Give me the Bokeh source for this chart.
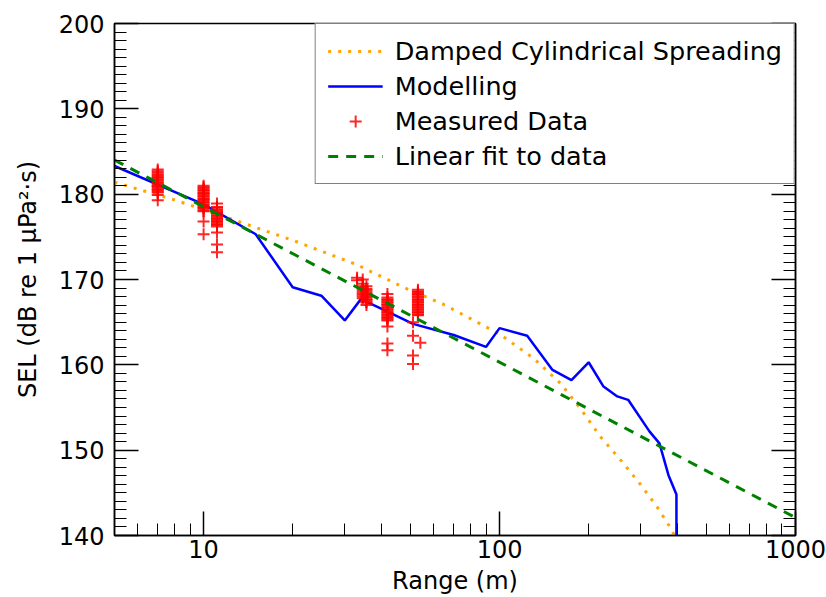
from bokeh.plotting import figure
from bokeh.models import FixedTicker, LinearAxis, Legend, LegendItem, Range1d, BasicTickFormatter
from bokeh.embed import file_html
from bokeh.resources import INLINE

FONT = "DejaVu Sans"

# ---- data ----
dsr_range = [5, 7.85, 10, 20, 32.6, 48, 64.6, 100, 130, 161, 190, 219, 260, 299, 340, 378, 400]
dsr_sel = [181.4, 179.4, 178.2, 174.6, 171.8, 169.0, 167.1, 163.6, 160.8, 157.8, 154.6, 151.6, 148.6, 146.0, 143.4, 140.9, 139.2]

model_range = [5, 10, 15, 20, 25, 30, 34, 42, 51, 70, 90, 100, 124, 151, 175, 200, 224,
               250, 272, 321, 347, 372, 396, 396]
model_sel = [183.3, 178.8, 175.3, 169.1, 168.1, 165.2, 167.7, 166.2, 164.8, 163.5, 162.1,
             164.3, 163.4, 159.4, 158.2, 160.3, 157.5, 156.3, 155.9, 152.2, 150.8, 147.1, 144.8, 140.0]

r7_sel = [182.9, 182.7, 182.5, 182.3, 182.2, 182.0, 181.9, 181.7, 181.6, 181.4, 181.3, 181.1,
          181.0, 180.9, 180.8, 180.6, 180.5, 180.3, 180.2, 179.9, 179.3]
r10_sel = [181.0, 180.8, 180.7, 180.5, 180.4, 180.2, 180.1, 180.0, 179.8, 179.7, 179.5, 179.4,
           179.3, 179.1, 179.0, 178.8, 178.7, 178.5, 178.4, 178.3, 178.1, 178.0, 176.8, 175.3]
r11_sel = [178.9, 178.5, 178.4, 178.2, 178.1, 177.9, 177.8, 177.7, 177.5, 177.4, 177.2, 177.1,
           176.9, 176.8, 176.7, 176.5, 176.4, 176.2, 175.5, 174.1, 173.2]
r33_sel = [170.2, 169.9]
r345_sel = [170.0, 169.5, 169.2, 169.0, 168.8, 168.6, 168.4, 168.2, 168.0, 167.8]
r355_sel = [169.2, 168.9, 168.7, 168.5, 168.3, 168.2, 168.0, 167.9, 167.7, 167.6, 167.4, 167.3, 167.0]
r42_sel = [168.3, 167.9, 167.7, 167.6, 167.4, 167.3, 167.1, 167.0, 166.8, 166.7, 166.5, 166.4,
           166.2, 166.1, 165.9, 165.8, 165.6, 165.5, 165.3, 165.2, 164.5, 162.5, 161.7]
r53_sel = [168.8, 168.6, 168.5, 168.3, 168.2, 168.0, 167.9, 167.7, 167.6, 167.4, 167.3, 167.1,
           167.0, 166.8, 166.7, 166.5, 166.4, 166.2, 166.1, 165.9, 165.8]
r51_sel = [165.0, 163.4, 161.1, 160.1]
r54_sel = [162.6]

meas_groups = [(7.0, r7_sel), (10.0, r10_sel), (11.1, r11_sel), (33.0, r33_sel),
               (34.5, r345_sel), (35.5, r355_sel), (41.8, r42_sel), (53.0, r53_sel),
               (51.0, r51_sel), (54.0, r54_sel)]
meas_range = [r for r, vals in meas_groups for _ in vals]
meas_sel = [v for _, vals in meas_groups for v in vals]

fit_range = [5, 1000]
fit_sel = [184.0, 142.1]

x_major = [10, 100, 1000]
x_minor = [6, 7, 8, 9, 20, 30, 40, 50, 60, 70, 80, 90, 200, 300, 400, 500, 600, 700, 800, 900]
y_major = [140, 150, 160, 170, 180, 190, 200]
y_minor = list(range(140, 201))

p = figure(width=826, height=597, x_axis_type="log",
           x_range=Range1d(5, 1000), y_range=Range1d(140, 200),
           output_backend="svg", toolbar_location=None, title=None,
           min_border_left=114, min_border_right=31, min_border_top=23, min_border_bottom=40)

p.grid.visible = False
p.outline_line_color = "black"
p.outline_line_width = 1.5

r_dsr = p.line(dsr_range, dsr_sel, line_color="orange", line_width=3, line_dash="3 7")
r_mod = p.line(model_range, model_sel, line_color="blue", line_width=2.5)
r_meas = p.scatter(meas_range, meas_sel, marker="cross", size=12, line_color="red",
                   line_alpha=0.85, line_width=2)
r_fit = p.line(fit_range, fit_sel, line_color="green", line_width=3, line_dash="10 8")

def style_axis(ax):
    ax.axis_line_color = "black"
    ax.axis_line_width = 1.5
    ax.major_tick_in = 24
    ax.major_tick_out = 0
    ax.minor_tick_in = 12
    ax.minor_tick_out = 0
    ax.major_tick_line_color = "black"
    ax.minor_tick_line_color = "black"
    ax.major_tick_line_width = 1.5
    ax.minor_tick_line_width = 1
    ax.major_label_text_font = FONT
    ax.major_label_text_font_size = "24px"
    ax.major_label_text_color = "black"
    ax.axis_label_text_font = FONT
    ax.axis_label_text_font_size = "24px"
    ax.axis_label_text_font_style = "normal"
    ax.axis_label_text_color = "black"

xa = p.xaxis[0]
xa.ticker = FixedTicker(ticks=x_major, minor_ticks=x_minor)
xa.formatter = BasicTickFormatter()
xa.major_label_overrides = {10: "10", 100: "100", 1000: "1000"}
xa.axis_label = "Range (m)"
style_axis(xa)
xa.major_label_standoff = 4
xa.axis_label_standoff = 6

ya = p.yaxis[0]
ya.ticker = FixedTicker(ticks=y_major, minor_ticks=y_minor)
ya.axis_label = "SEL (dB re 1 μPa²·s)"
style_axis(ya)
ya.major_label_standoff = 10
ya.axis_label_standoff = 14

yr = LinearAxis(ticker=FixedTicker(ticks=y_major, minor_ticks=y_minor))
style_axis(yr)
yr.major_label_overrides = {v: "" for v in y_major}
p.add_layout(yr, "right")

legend = Legend(items=[
    LegendItem(label="Damped Cylindrical Spreading", renderers=[r_dsr]),
    LegendItem(label="Modelling", renderers=[r_mod]),
    LegendItem(label="Measured Data", renderers=[r_meas]),
    LegendItem(label="Linear fit to data", renderers=[r_fit]),
], location="top_right")
legend.label_text_font = FONT
legend.label_text_font_size = "25.5px"
legend.label_text_color = "black"
legend.glyph_width = 55
legend.glyph_height = 30
legend.label_height = 30
legend.spacing = 5
legend.padding = 12
legend.margin = 0
legend.label_standoff = 12
legend.border_line_color = "black"
legend.border_line_width = 1
legend.background_fill_alpha = 1
p.add_layout(legend)

open("out.html", "w").write(file_html(p, INLINE))
